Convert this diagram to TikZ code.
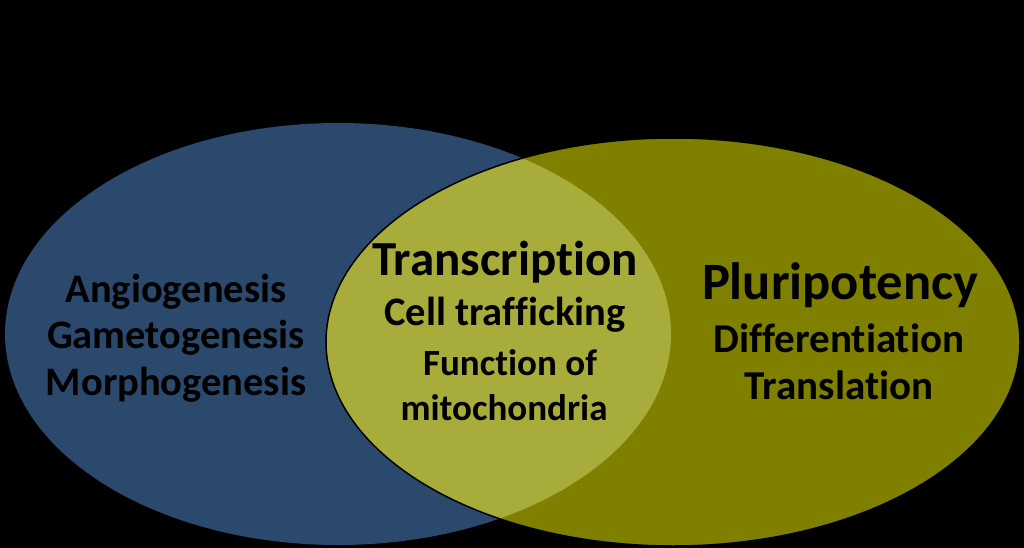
\documentclass[tikz,border=0pt]{standalone}
\usepackage{fontspec}
\setmainfont{Carlito}[Ligatures=NoCommon]
\definecolor{vblue}{RGB}{43,73,108}
\definecolor{volive}{RGB}{128,128,0}
\definecolor{vlens}{RGB}{168,172,58}
\begin{document}
\begin{tikzpicture}[x=1pt,y=-1pt,
  lbl/.style={text=black, inner sep=0pt, anchor=center},
  fs/.style={lbl, font=\fontsize{#1}{#1}\selectfont\bfseries}]
\fill[black] (0,0) rectangle (1024,548);
\useasboundingbox (0,0) rectangle (1024,548);
% ellipses
\fill[vblue] (338,334) ellipse [x radius=333, y radius=211];
\fill[volive] (673,342) ellipse [x radius=347, y radius=204];
\begin{scope}
  \clip (338,334) ellipse [x radius=333, y radius=211];
  \fill[vlens] (673,342) ellipse [x radius=347, y radius=204];
\end{scope}
\draw[black, line width=1.5pt] (673,342) ellipse [x radius=347, y radius=204];
% left labels
\node[fs=40.5] (ang) at (176,292) {Angiogenesis};
\node[fs=40.5] (gam) at (176,338) {Gametogenesis};
\node[fs=40.5] (mor) at (176,385) {Morphogenesis};
% centre labels
\node[fs=49] (tra) at (505,262) {Transcription};
\node[fs=40.5] (cel) at (505,315) {Cell trafficking};
\node[fs=37] (fun) at (510,363) {Function of};
\node[fs=37] (mit) at (504,408) {mitochondria};
% right labels
\node[fs=52.5] (plu) at (840,285) {Pluripotency};
\node[fs=41] (dif) at (839,338) {Differentiation};
\node[fs=41] (trl) at (839,385) {Translation};
\end{tikzpicture}
\end{document}
